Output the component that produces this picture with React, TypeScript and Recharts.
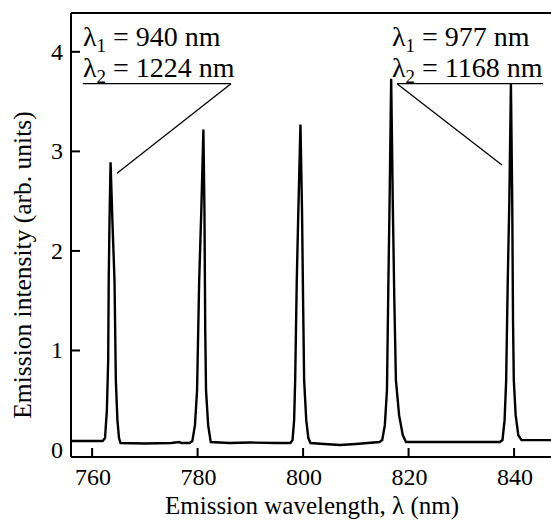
import React from 'react';
import { LineChart, Line, XAxis, YAxis, ReferenceLine } from 'recharts';

const wavelength = [
  756, 762.0, 762.45, 762.8, 763.05, 763.15, 763.3, 763.5, 763.85, 764.25, 764.5, 764.8, 765.1, 765.4,
  770, 775, 776.5, 777, 778.5,
  779.0, 779.5, 779.9, 780.3, 780.7, 781.1, 781.3, 781.45, 781.6, 782.0, 782.5,
  786, 790, 795, 797.6,
  798.0, 798.3, 798.5, 798.8, 799.1, 799.5, 799.8, 800.0, 800.2, 800.6, 801.0, 801.4,
  804, 807, 810, 814.5,
  815.0, 815.5, 815.9, 816.15, 816.4, 816.7, 817.0, 817.3, 817.6, 818.2, 818.9, 819.5,
  825, 830, 837.3,
  837.8, 838.2, 838.5, 838.8, 839.1, 839.4, 839.65, 839.8, 839.95, 840.3, 840.8, 841.4,
  847,
];
const intensity = [
  0.09, 0.09, 0.12, 0.4, 0.9, 1.7, 2.3, 2.89, 2.3, 1.7, 0.7, 0.3, 0.12, 0.07,
  0.065, 0.07, 0.08, 0.07, 0.07,
  0.09, 0.25, 0.6, 1.7, 2.4, 3.22, 2.4, 1.2, 0.6, 0.25, 0.08,
  0.07, 0.075, 0.07, 0.07,
  0.1, 0.3, 0.7, 1.7, 2.4, 3.27, 2.4, 1.5, 0.7, 0.3, 0.12, 0.07,
  0.06, 0.05, 0.06, 0.08,
  0.1, 0.25, 0.6, 1.6, 2.5, 3.73, 2.5, 1.5, 0.7, 0.35, 0.15, 0.08,
  0.08, 0.08, 0.08,
  0.1, 0.3, 0.7, 1.7, 2.5, 3.68, 2.5, 1.3, 0.7, 0.35, 0.15, 0.1,
  0.1,
];
const xTicks = [760, 780, 800, 820, 840];
const yTicks = [0, 1, 2, 3, 4];
const xDomain = [756, 847];
const yDomain = [-0.07, 4.39];

// annotation leader lines (data coordinates)
const leftUnderline = [{ x: 758.27, y: 3.68 }, { x: 786.33, y: 3.68 }];
const leftLeader = [{ x: 786.33, y: 3.68 }, { x: 764.72, y: 2.78 }];
const rightUnderline = [{ x: 817.8, y: 3.68 }, { x: 845.48, y: 3.68 }];
const rightLeader = [{ x: 817.8, y: 3.68 }, { x: 837.7, y: 2.863 }];

const data = wavelength.map((w, i) => ({ w, v: intensity[i] }));

const FONT = 'Liberation Serif';

const XTick = (props: any) => {
  const { x, y, payload } = props;
  return (
    <g>
      <line x1={x} x2={x} y1={y} y2={y - 9} stroke="#000" strokeWidth={2} />
      <text x={x + 1} y={y + 28} textAnchor="middle" fontFamily={FONT} style={{ fontFamily: FONT }} fontSize={24} fill="#000">
        {payload.value}
      </text>
    </g>
  );
};

const YTick = (props: any) => {
  const { x, y, payload } = props;
  return (
    <g>
      {payload.value !== 0 && (
        <line x1={x} x2={x + 9} y1={y} y2={y} stroke="#000" strokeWidth={2} />
      )}
      <text x={x - 8} y={y + 8} textAnchor="end" fontFamily={FONT} style={{ fontFamily: FONT }} fontSize={24} fill="#000">
        {payload.value}
      </text>
    </g>
  );
};

const Lam = ({ x, y, sub, rest }: { x: number; y: number; sub: string; rest: string }) => (
  <text x={x} y={y} fontFamily={FONT} style={{ fontFamily: FONT }} fontSize={28} fill="#000">
    λ
    <tspan dy={6} fontSize={19}>{sub}</tspan>
    <tspan dy={-6}>{rest}</tspan>
  </text>
);

export default function App() {
  return (
    <div style={{ position: 'fixed', left: 0, top: 0, width: 551, height: 520, overflow: 'hidden', background: '#fff', fontFamily: FONT }}>
      <LineChart width={551} height={520} data={data} margin={{ top: 0, right: 0, bottom: 0, left: 0 }}>
        <XAxis
          dataKey="w"
          type="number"
          domain={xDomain}
          ticks={xTicks}
          allowDataOverflow
          height={63}
          tickSize={0}
          tickMargin={0}
          tickLine={false}
          tick={<XTick />}
          axisLine={{ stroke: '#000', strokeWidth: 2 }}
        />
        <XAxis
          xAxisId="top"
          orientation="top"
          type="number"
          domain={xDomain}
          height={13}
          tick={false}
          tickLine={false}
          axisLine={{ stroke: '#000', strokeWidth: 2 }}
        />
        <YAxis
          type="number"
          domain={yDomain}
          ticks={yTicks}
          allowDataOverflow
          width={71}
          tickSize={0}
          tickMargin={0}
          tickLine={false}
          tick={<YTick />}
          axisLine={{ stroke: '#000', strokeWidth: 2 }}
        />
        <ReferenceLine segment={leftUnderline} stroke="#000" strokeWidth={1.3} />
        <ReferenceLine segment={leftLeader} stroke="#000" strokeWidth={1.3} />
        <ReferenceLine segment={rightUnderline} stroke="#000" strokeWidth={1.3} />
        <ReferenceLine segment={rightLeader} stroke="#000" strokeWidth={1.3} />
        <Line
          dataKey="v"
          type="linear"
          stroke="#000"
          strokeWidth={2.4}
          dot={false}
          isAnimationActive={false}
        />
      </LineChart>
      <svg width={551} height={520} style={{ position: 'absolute', left: 0, top: 0, pointerEvents: 'none' }}>
        <Lam x={83} y={46} sub="1" rest=" = 940 nm" />
        <Lam x={83} y={77} sub="2" rest=" = 1224 nm" />
        <Lam x={392} y={46} sub="1" rest=" = 977 nm" />
        <Lam x={392} y={77} sub="2" rest=" = 1168 nm" />
        <text x={312} y={514} textAnchor="middle" fontFamily={FONT} style={{ fontFamily: FONT }} fontSize={25} fill="#000">
          Emission wavelength, λ (nm)
        </text>
        <text
          transform="translate(31,265) rotate(-90)"
          textAnchor="middle"
          fontFamily={FONT}
          style={{ fontFamily: FONT }}
          fontSize={25.5}
          fill="#000"
        >
          Emission intensity (arb. units)
        </text>
      </svg>
    </div>
  );
}
